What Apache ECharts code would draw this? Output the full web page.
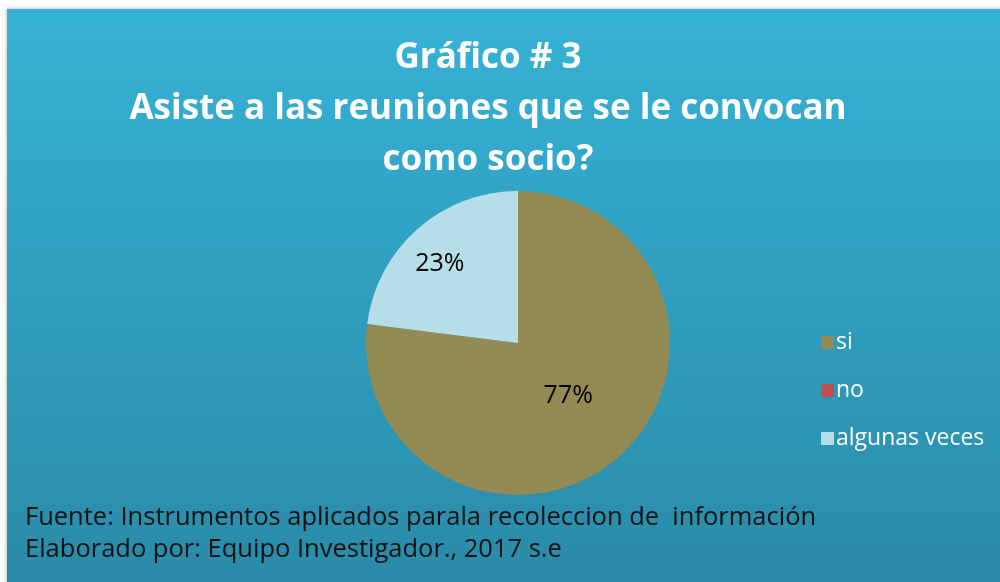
<!DOCTYPE html>
<html style="height: 100%">
<head>
<meta charset="UTF-8">
<title>Gráfico # 3</title>
<script src="https://cdn.jsdelivr.net/npm/echarts@6/dist/echarts.min.js"></script>
</head>
<body style="height: 100%; margin: 0; background: #fff">
<div id="container" style="width: 1000px; height: 582px"></div>
<script type="text/javascript">
// datos del grafico
var categorias = ['si', 'no', 'algunas veces'];
var valores = [77, 0, 23];
var colores = ['#948A54', '#C0504D', '#B7DEE8'];
var titulo = ['Gráfico # 3', 'Asiste a las reuniones que se le convocan', 'como socio?'];
var fuente = ['Fuente: Instrumentos aplicados parala recoleccion de  información',
              'Elaborado por: Equipo Investigador., 2017 s.e'];

var dom = document.getElementById("container");
var myChart = echarts.init(dom);

var datos = [];
for (var i = 0; i < categorias.length; i++) {
	datos.push({
		name: categorias[i],
		value: valores[i],
		itemStyle: { color: colores[i] },
		label: i == 2 ? { offset: [-26, -20] } : { offset: [-2, -6] }
	});
}

var graficos = [{
	type: 'rect',
	z: -10,
	shape: { x: 7, y: 9, width: 1000, height: 580 },
	style: {
		fill: new echarts.graphic.LinearGradient(0, 0, 0, 1, [
			{ offset: 0, color: '#36B2D6' },
			{ offset: 1, color: '#2A8AA7' }
		]),
		shadowBlur: 4,
		shadowColor: 'rgba(0,0,0,0.35)',
		shadowOffsetX: 0,
		shadowOffsetY: 0
	}
}];
for (var j = 0; j < titulo.length; j++) {
	graficos.push({
		type: 'text',
		x: 488,
		y: 58 + j * 51,
		style: {
			text: titulo[j],
			fill: '#fff',
			font: 'bold 35px "Open Sans"',
			align: 'center',
			verticalAlign: 'middle'
		}
	});
}
for (var k = 0; k < fuente.length; k++) {
	graficos.push({
		type: 'text',
		x: 25,
		y: 518 + k * 32,
		style: {
			text: fuente[k],
			fill: '#111',
			font: '25.5px "Open Sans"',
			align: 'left',
			verticalAlign: 'middle'
		}
	});
}

var option = {
	animation: false,
	graphic: graficos,
	legend: {
		orient: 'vertical',
		left: 816,
		top: 326,
		icon: 'rect',
		itemWidth: 13,
		itemHeight: 13,
		itemGap: 25,
		data: categorias,
		textStyle: { color: '#fff', fontSize: 23, fontFamily: 'Open Sans', padding: [0, 0, 0, -3] }
	},
	series: [{
		type: 'pie',
		center: [518, 343],
		radius: 152,
		startAngle: 90,
		clockwise: true,
		stillShowZeroSum: true,
		minShowLabelAngle: 1,
		label: {
			position: 'inside',
			formatter: '{d}%',
			color: '#000',
			fontSize: 25,
			fontFamily: 'Open Sans'
		},
		labelLine: { show: false },
		emphasis: { disabled: true },
		itemStyle: { borderWidth: 0 },
		data: datos
	}]
};
myChart.setOption(option, true);
</script>
</body>
</html>
